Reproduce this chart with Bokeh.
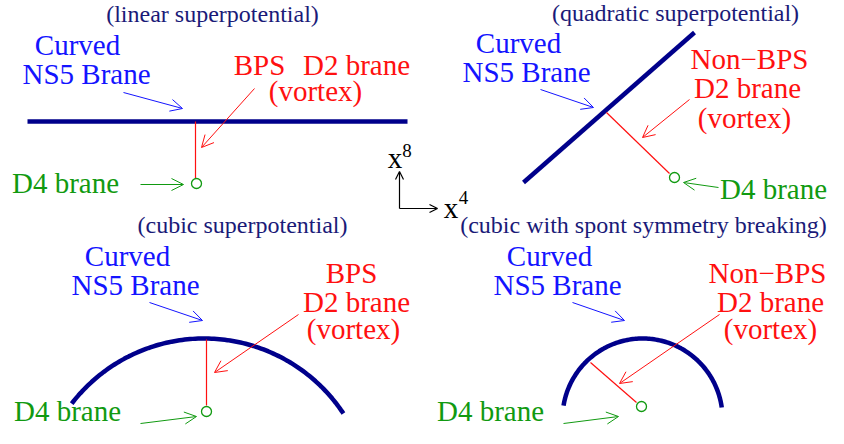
import numpy as np
from bokeh.plotting import figure
from bokeh.models import Range1d, Arrow, OpenHead, ColumnDataSource
from bokeh.core.properties import value
from bokeh.embed import file_html
from bokeh.resources import INLINE

# ---------------- diagram content (picture pixel coordinates) ----------------
NAVY = "#00008b"
TITLE_C = "#1a1a78"
BLUE = "#1414ff"
RED = "#ff1010"
GREEN = "#119a11"
FONT = "Liberation Serif"
TEXT_DY = -10   # correction between wanted baseline and rendered baseline

# panel titles
title_text = ["(linear superpotential)", "(quadratic superpotential)",
              "(cubic superpotential)", "(cubic with spont symmetry breaking)"]
title_x = [212, 675, 242, 643]
title_y = [23, 22, 234, 234]

# blue labels
blue_text = ["Curved", "NS5 Brane"] * 4
blue_x = [77, 86, 518, 526, 127, 135, 549, 557]
blue_y = [54, 83, 52, 81, 265, 294, 265, 294]

# red labels
red_text = ["BPS", "D2 brane", "(vortex)",
            "Non\u2212BPS", "D2 brane", "(vortex)",
            "BPS", "D2 brane", "(vortex)",
            "Non\u2212BPS", "D2 brane", "(vortex)"]
red_x = [259, 356, 315, 749, 747, 744, 351, 356, 353, 767, 770, 770]
red_y = [74, 74, 100, 68, 97, 127, 282, 311, 338, 282, 311, 338]

# green labels
green_text = ["D4 brane"] * 4
green_x = [65, 773, 67, 490]
green_y = [192, 198, 420, 420]

# straight NS5 branes (panels 1 and 2)
ns5_x = [[27, 407], [523, 694]]
ns5_y = [[121, 121], [182, 32]]

# curved NS5 branes (panels 3 and 4): centre, radius, end angles (deg)
arc_cx = [203.5, 642]
arc_cy = [505, 418]
arc_r = [167, 80]
arc_a0 = [-142.4, -170.7]
arc_a1 = [-33.4, -7.9]

# D2 branes (red segments)
d2_x = [[195, 195], [606, 669], [206, 206], [590, 636]]
d2_y = [[121, 178], [112, 173], [339, 405], [362, 402]]

# D4 branes (green circles)
d4_x = [196, 674, 206, 641]
d4_y = [183, 177, 411, 406]

# pointer arrows: (x_start, y_start, x_end, y_end)
blue_arrows = [(123, 92, 182, 108), (540, 89, 593, 107),
               (149, 302, 202, 320), (572, 302, 624, 320)]
red_arrows = [(254, 88, 201, 147), (689, 99, 642, 137),
              (298, 314, 214, 372), (719, 314, 619, 383)]
green_arrows = [(140, 184, 183, 184), (718, 187, 683, 182),
                (140, 423, 196, 416), (563, 423, 618, 416)]

# axes indicator
axis_arrows = [(399, 208, 399, 171), (399, 208, 437, 208)]
axis_text = ["x", "x"]
axis_x = [394.5, 450.5]
axis_y = [167, 217]
axis_sup = ["8", "4"]
axis_sup_x = [406.5, 463]
axis_sup_y = [160, 207]

# ---------------- figure ----------------
p = figure(width=828, height=428, output_backend="svg", toolbar_location=None,
           x_range=Range1d(0, 828), y_range=Range1d(428, 0),
           x_axis_location=None, y_axis_location=None, min_border=0)
p.grid.visible = False
p.outline_line_color = None
p.background_fill_color = "white"
p.border_fill_color = "white"

# NS5 straight branes
p.multi_line(xs=ns5_x, ys=ns5_y, line_color=NAVY, line_width=4.5)

# NS5 curved branes
for cx, cy, r, a0, a1 in zip(arc_cx, arc_cy, arc_r, arc_a0, arc_a1):
    th = np.radians(np.linspace(a0, a1, 120))
    p.line(cx + r * np.cos(th), cy + r * np.sin(th), line_color=NAVY, line_width=4.5)

# D2 branes
p.multi_line(xs=d2_x, ys=d2_y, line_color=RED, line_width=1.2)

# D4 branes
p.scatter(d4_x, d4_y, marker="circle", size=10, fill_color="white",
          line_color=GREEN, line_width=1.3)

def add_arrows(lst, color, size=12, width=1.0):
    for (x0, y0, x1, y1) in lst:
        p.add_layout(Arrow(end=OpenHead(size=size, line_color=color, line_width=width),
                           x_start=x0, y_start=y0, x_end=x1, y_end=y1,
                           line_color=color, line_width=width))

add_arrows(blue_arrows, BLUE)
add_arrows(red_arrows, RED)
add_arrows(green_arrows, GREEN)
add_arrows(axis_arrows, "black", size=8, width=1.2)

def add_text(xs, ys, texts, color, size):
    src = ColumnDataSource(dict(x=xs, y=[v + TEXT_DY for v in ys], t=texts))
    p.text(x="x", y="y", text="t", source=src, text_color=color,
           text_font=value(FONT), text_font_size=size,
           text_align="center", text_baseline="alphabetic")

add_text(title_x, title_y, title_text, TITLE_C, "24px")
add_text(blue_x, blue_y, blue_text, BLUE, "29px")
add_text(red_x, red_y, red_text, RED, "29px")
add_text(green_x, green_y, green_text, GREEN, "29px")
add_text(axis_x, axis_y, axis_text, "black", "29px")
add_text(axis_sup_x, axis_sup_y, axis_sup, "black", "19px")

open("out.html", "w").write(file_html(p, INLINE))
